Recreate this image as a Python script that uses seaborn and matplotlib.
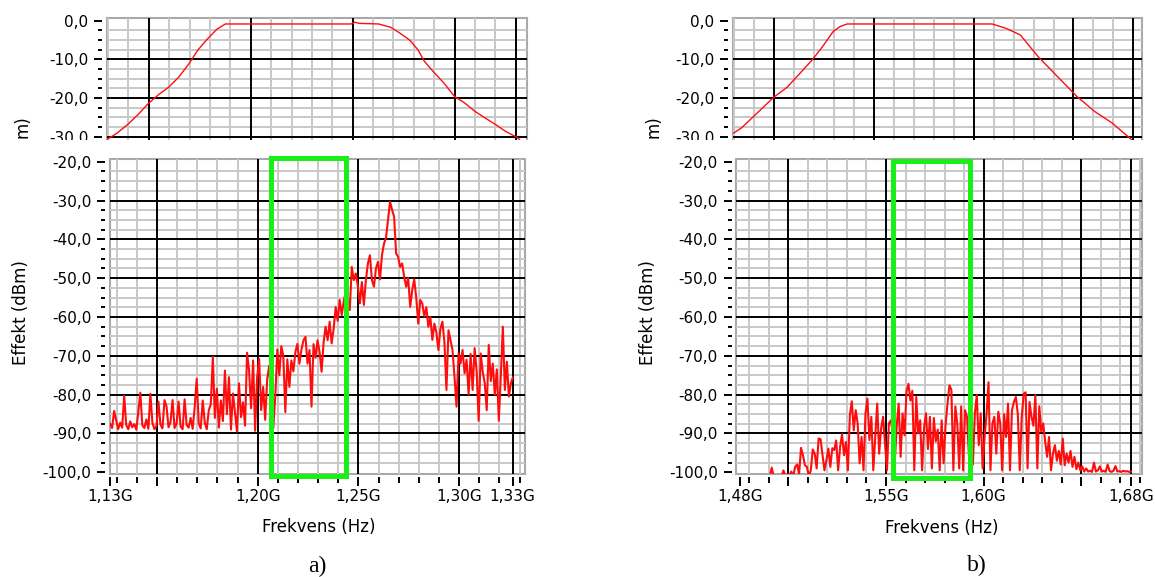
import numpy as np
import matplotlib
matplotlib.use("Agg")
import matplotlib.pyplot as plt
from matplotlib.patches import Rectangle
from matplotlib.ticker import MultipleLocator, FixedLocator, FuncFormatter
import seaborn as sns

W, H = 1155, 577

# filter response (top panels), GHz / dB
filter_a_freq = [1.1294, 1.1345, 1.1396, 1.1446, 1.1497, 1.1547, 1.1598, 1.1649, 1.1699, 1.1741,
                 1.1783, 1.1834, 1.1876, 1.2492, 1.2509, 1.2534, 1.2627, 1.2686, 1.2728, 1.2779,
                 1.2821, 1.2847, 1.2880, 1.2948, 1.2999, 1.3049, 1.3100, 1.3150, 1.3201, 1.3251,
                 1.3302, 1.3319]
filter_a_db = [-30.8, -29.1, -26.9, -24.4, -21.5, -19.2, -17.2, -14.5, -11.0, -7.6,
               -5.0, -2.2, -0.85, -0.85, -0.4, -0.7, -0.85, -1.7, -3.1, -5.0,
               -7.6, -10.2, -12.3, -16.2, -19.6, -21.3, -23.5, -25.2, -26.9, -28.7,
               -30.1, -30.8]

filter_b_freq = [1.4798, 1.4837, 1.4890, 1.4943, 1.5000, 1.5067, 1.5138, 1.5191, 1.5244, 1.5297,
                 1.5332, 1.5367, 1.6093, 1.6164, 1.6234, 1.6323, 1.6411, 1.6517, 1.6606, 1.6694,
                 1.6791]
filter_b_db = [-29.1, -27.8, -25.2, -22.6, -19.8, -17.2, -13.2, -10.2, -6.7, -2.8,
               -1.5, -0.85, -0.85, -2.0, -3.7, -9.3, -14.0, -19.6, -23.5, -26.5,
               -30.8]

# spectrum sweeps (bottom panels), dBm, 201 sweep points each
sweep_a = (1.1267, 1.3267)
spectrum_a_dbm = [
    -87.5, -88.6, -84.2, -86.5, -88.9, -87.2, -88.5, -80.3, -87.8, -88.9,
    -86.9, -88.4, -87.6, -89.0, -84.5, -79.5, -87.9, -88.6, -86.4, -88.8,
    -79.8, -87.2, -88.9, -88.1, -81.8, -87.7, -88.7, -81.4, -83.0, -88.4,
    -87.1, -81.4, -88.6, -87.5, -81.8, -88.2, -88.9, -81.2, -87.8, -88.5,
    -86.0, -88.8, -83.2, -75.9, -87.4, -88.7, -81.5, -87.2, -88.9, -84.0,
    -82.5, -70.3, -86.0, -78.5, -88.5, -81.5, -86.8, -73.8, -85.0, -75.5,
    -89.0, -79.7, -84.5, -89.5, -77.1, -85.8, -82.0, -88.0, -69.2, -73.8,
    -83.5, -71.2, -89.3, -75.5, -70.8, -84.0, -78.0, -86.5, -76.0, -72.5,
    -81.0, -88.7, -80.5, -68.4, -75.0, -67.5, -70.0, -84.5, -70.9, -78.0,
    -71.2, -74.0, -69.0, -66.9, -72.0, -68.4, -66.0, -65.1, -72.0, -68.5,
    -83.1, -67.0, -70.5, -66.0, -69.0, -74.1, -66.5, -62.5, -66.0, -61.2,
    -66.8, -63.0, -57.4, -61.0, -55.6, -59.5, -56.0, -53.5, -55.0, -58.2,
    -47.1, -50.5, -48.8, -52.0, -56.5, -51.0, -56.9, -50.5, -46.2, -44.1,
    -50.5, -52.2, -47.5, -45.8, -50.3, -44.0, -41.1, -39.5, -35.0, -30.3,
    -32.4, -34.1, -43.6, -44.5, -47.1, -46.2, -49.6, -52.2, -50.0, -57.4,
    -53.1, -50.3, -55.0, -61.7, -55.6, -56.5, -59.9, -57.5, -62.5, -60.0,
    -65.9, -61.7, -64.0, -68.5, -63.0, -61.2, -66.5, -78.8, -63.4, -65.9,
    -68.5, -75.4, -83.1, -69.4, -72.0, -68.5, -74.5, -71.0, -80.0, -69.5,
    -78.8, -68.0, -74.1, -86.7, -69.4, -74.1, -77.0, -84.0, -67.2, -76.5,
    -72.0, -80.0, -73.5, -86.7, -75.0, -62.5, -78.8, -71.5, -80.5, -77.0,
    -75.5]

sweep_b = (1.4755, 1.6755)
spectrum_b_dbm = [
    -101, -101, -101, -101, -101, -101, -101, -101, -101, -101,
    -101, -101, -101, -101, -101, -101, -98.8, -101, -101, -101,
    -101, -101, -99.5, -101, -100.5, -101, -99.8, -101, -98.6, -98.0,
    -100.5, -93.7, -95.6, -98.2, -98.6, -101, -99.5, -94.1, -95.2, -99.0,
    -91.3, -91.5, -95.6, -99.5, -96.9, -93.9, -98.6, -93.8, -94.3, -91.8,
    -99.5, -93.5, -90.2, -95.6, -92.2, -99.5, -85.3, -81.7, -89.2, -84.0,
    -87.4, -97.7, -90.9, -99.5, -84.8, -81.0, -91.7, -85.7, -99.5, -90.9,
    -82.3, -95.2, -88.7, -85.7, -92.6, -99.5, -87.4, -86.6, -90.0, -97.5,
    -88.0, -82.3, -96.0, -84.8, -90.5, -79.2, -77.2, -81.5, -79.0, -99.5,
    -80.6, -90.0, -86.6, -99.5, -88.5, -84.8, -94.0, -85.7, -99.0, -86.0,
    -92.0, -89.0, -99.5, -86.6, -97.7, -88.0, -82.3, -77.6, -78.8, -99.5,
    -83.0, -87.4, -99.0, -83.0, -99.5, -84.0, -85.7, -96.0, -86.0, -98.0,
    -84.8, -80.1, -93.0, -84.8, -99.0, -90.9, -85.0, -76.8, -99.5, -87.4,
    -85.7, -95.2, -84.4, -87.4, -99.5, -85.0, -90.9, -82.3, -99.5, -84.0,
    -81.9, -80.6, -85.0, -99.5, -86.0, -79.8, -79.4, -99.0, -81.9, -85.7,
    -88.0, -80.1, -99.0, -83.0, -89.5, -87.4, -92.0, -96.0, -90.9, -99.5,
    -95.2, -93.0, -97.0, -94.5, -98.0, -91.3, -98.2, -95.2, -97.5, -94.5,
    -98.6, -96.0, -99.2, -97.5, -99.5, -98.5, -99.8, -99.0, -99.8, -99.6,
    -99.9, -97.5, -99.8, -99.5, -98.5, -99.8, -99.6, -99.9, -98.0, -99.7,
    -99.9, -99.6, -98.4, -99.8, -99.7, -99.9, -99.6, -99.8, -99.7, -99.9,
    -99.8]

# marked bands (green boxes): f_lo, f_hi, level_lo, level_hi
band_a = [1.2064, 1.2440, -100.95, -19.0]
band_b = [1.5537, 1.5931, -101.4, -19.8]

xticks_a = [1.1267, 1.15, 1.20, 1.25, 1.30, 1.3265]
xlabels_a = ["1,13G", "", "1,20G", "1,25G", "1,30G", "1,33G"]
xticks_b = [1.4755, 1.50, 1.55, 1.60, 1.65, 1.6755]
xlabels_b = ["1,48G", "", "1,55G", "1,60G", "", "1,68G"]
top_xticks_a = [1.15, 1.20, 1.25, 1.30, 1.33]
top_xticks_b = [1.50, 1.55, 1.60, 1.65, 1.68]

sns.set_theme(style="white")
plt.rcParams["font.family"] = ["DejaVu Sans"]
plt.rcParams["text.color"] = "black"
plt.rcParams["axes.labelcolor"] = "black"

fig = plt.figure(figsize=(W / 100, H / 100), dpi=100)


def add_panel(x0, y0, x1, y1):
    # pixel box, measured from the top-left of the picture
    return fig.add_axes([x0 / W, 1 - y1 / H, (x1 - x0) / W, (y1 - y0) / H])


def dec_comma(v, pos):
    s = f"{v:.1f}".replace(".", ",")
    return "0,0" if s == "-0,0" else s


def style(ax, xlim, ylim, xmajor, xgrid, ygrid):
    ax.set_xlim(xlim)
    ax.set_ylim(ylim)
    ax.xaxis.set_major_locator(FixedLocator(xmajor))
    ax.xaxis.set_minor_locator(MultipleLocator(0.01))
    ax.yaxis.set_major_locator(MultipleLocator(10))
    ax.yaxis.set_minor_locator(MultipleLocator(2.5))
    ax.yaxis.set_major_formatter(FuncFormatter(dec_comma))
    ax.set_axisbelow(True)
    ax.grid(which="major", visible=False)
    ax.grid(which="minor", color="#c8c8c8", lw=1.4)
    for v in xgrid:
        ax.axvline(v, color="black", lw=1.4, zorder=0.9)
    for v in ygrid:
        ax.axhline(v, color="black", lw=1.4, zorder=0.9)
    for s in ax.spines.values():
        s.set_visible(False)
    ax.spines["left"].set_position(("outward", 3.2))
    ax.spines["bottom"].set_position(("outward", 1.9))
    ax.patch.set_edgecolor("#a9a9a9")
    ax.patch.set_linewidth(1.5)
    ax.tick_params(axis="y", which="major", left=True, length=5.5, width=1.4,
                   pad=4.5, labelsize=11, color="black", labelcolor="black")
    ax.tick_params(axis="y", which="minor", left=True, length=2.9, width=1.4, color="black")
    ax.set_xlabel("")
    ax.set_ylabel("")


red = "#ff0d0d"

# top panels
ax_ta = add_panel(106.7, 18.3, 526.7, 142)
ax_tb = add_panel(732.5, 18.3, 1142.4, 142)
for ax, fx, fy, xl, xt in [(ax_ta, filter_a_freq, filter_a_db, (1.1294, 1.3353), top_xticks_a),
                           (ax_tb, filter_b_freq, filter_b_db, (1.4793, 1.6845), top_xticks_b)]:
    sns.lineplot(x=fx, y=fy, ax=ax, color=red, lw=1.0, estimator=None, sort=False)
    style(ax, xl, (-31.4, 0.62), xt, xt, [-10, -20, -30])
    ax.tick_params(axis="x", which="both", bottom=False, labelbottom=False)

# bottom panels
ax_ba = add_panel(109.5, 159.3, 525, 474)
ax_bb = add_panel(736, 159.3, 1142.4, 474)
panels = [
    (ax_ba, sweep_a, spectrum_a_dbm, (1.1264, 1.3327), xticks_a, xlabels_a, band_a),
    (ax_bb, sweep_b, spectrum_b_dbm, (1.4732, 1.6813), xticks_b, xlabels_b, band_b),
]
for ax, sweep, spec, xl, xt, xlab, band in panels:
    freq = np.linspace(sweep[0], sweep[1], len(spec))
    sns.lineplot(x=freq, y=spec, ax=ax, color=red, lw=1.5, estimator=None, sort=False)
    style(ax, xl, (-100.44, -19.38), xt, xt[1:], list(range(-90, -29, 10)))
    ax.set_xticklabels(xlab)
    ax.tick_params(axis="x", which="major", bottom=True, length=6.5, width=1.4,
                   pad=2.5, labelsize=11, color="black", labelcolor="black")
    ax.tick_params(axis="x", which="minor", bottom=True, length=4.2, width=1.4, color="black")
    ax.add_patch(Rectangle((band[0], band[2]), band[1] - band[0], band[3] - band[2],
                           fill=False, edgecolor="#18f018", lw=3.6, clip_on=False,
                           zorder=6, joinstyle="miter"))

# cut between upper and lower panels
fig.add_artist(Rectangle((0, 1 - 152 / H), 1, 12 / H, transform=fig.transFigure,
                         facecolor="white", edgecolor="none", zorder=10))


def ptext(x, y, s, **kw):
    fig.text(x / W, 1 - y / H, s, ha="center", va="center", color="black", **kw)


ptext(20.6, 313, "Effekt (dBm)", rotation=90, fontsize=12)
ptext(648, 313, "Effekt (dBm)", rotation=90, fontsize=12)
ptext(22.4, 127, "m)", rotation=90, fontsize=12)
ptext(653, 127, "m)", rotation=90, fontsize=12)
ptext(318.5, 526.7, "Frekvens (Hz)", fontsize=12)
ptext(942, 528, "Frekvens (Hz)", fontsize=12)
ptext(317.5, 566, "a)", fontsize=17, family="Liberation Serif")
ptext(977, 565, "b)", fontsize=17, family="Liberation Serif")

fig.savefig("out.png", dpi=100)
